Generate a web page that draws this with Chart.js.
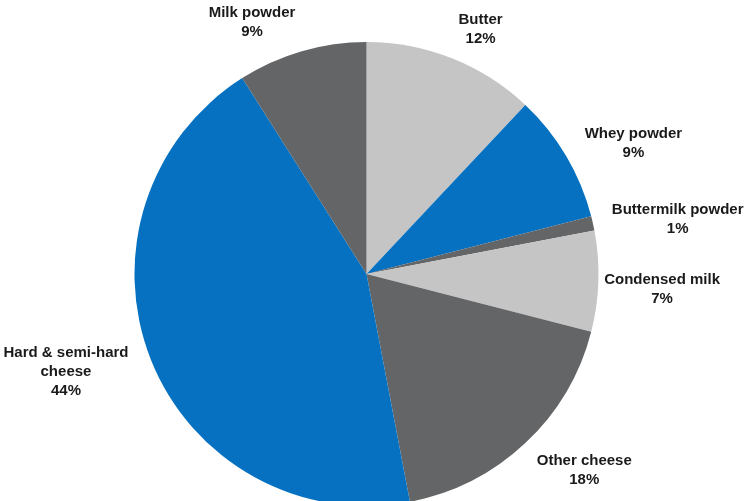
<!DOCTYPE html>
<html>
<head>
<meta charset="utf-8">
<script src="https://cdn.jsdelivr.net/npm/chart.js@4.4.1/dist/chart.umd.min.js"></script>
<style>
  html, body { margin: 0; padding: 0; background: #fff; overflow: hidden; }
  #wrap { position: absolute; left: 0; top: 0; width: 751px; height: 520px; }
</style>
</head>
<body>
<div id="wrap"><canvas id="pieDairy"></canvas></div>
<script>
const categories = ['Butter', 'Whey powder', 'Buttermilk powder', 'Condensed milk', 'Other cheese', 'Hard & semi-hard cheese', 'Milk powder'];
const shares = [12, 9, 1, 7, 18, 44, 9];
const labelLines = [
    ['Butter', '12%'],
    ['Whey powder', '9%'],
    ['Buttermilk powder', '1%'],
    ['Condensed milk', '7%'],
    ['Other cheese', '18%'],
    ['Hard & semi-hard', 'cheese', '44%'],
    ['Milk powder', '9%']
];

const lightGrey = '#c5c5c6';
const darkGrey = '#646567';
const blue = '#0671c0';
const sliceColors = [lightGrey, blue, darkGrey, lightGrey, darkGrey, blue, darkGrey];

// where each label block sits: angle from top (deg, clockwise) and distance from the centre
const labelPlace = [
    [25, 270], [64, 297], [80, 316], [93, 296], [132, 293], [252, 316], [-24.5, 276]
];

const outsideLabels = {
    id: 'outsideLabels',
    afterDraw(chart) {
        const ctx = chart.ctx;
        const arc = chart.getDatasetMeta(0).data[0];
        const cx = arc.x, cy = arc.y;
        ctx.save();
        ctx.font = 'bold 15px "Liberation Sans", Arial, sans-serif';
        ctx.fillStyle = '#1a1a1a';
        ctx.textAlign = 'center';
        ctx.textBaseline = 'middle';
        const lh = 19;
        labelLines.forEach((lines, i) => {
            const a = labelPlace[i][0] * Math.PI / 180;
            const d = labelPlace[i][1];
            const x = cx + Math.sin(a) * d;
            const y = cy - Math.cos(a) * d;
            const top = y - (lines.length - 1) * lh / 2;
            lines.forEach((t, j) => ctx.fillText(t, x, top + j * lh));
        });
        ctx.restore();
    }
};

const chart = new Chart(document.getElementById('pieDairy'), {
    type: 'pie',
    data: {
        labels: categories,
        datasets: [{
            data: shares,
            backgroundColor: sliceColors,
            borderWidth: 0
        }]
    },
    options: {
        responsive: true,
        maintainAspectRatio: false,
        animation: false,
        layout: { padding: { top: 42, bottom: 14, left: 0, right: 18 } },
        plugins: {
            legend: { display: false },
            tooltip: { enabled: false }
        }
    },
    plugins: [outsideLabels]
});
</script>
</body>
</html>
